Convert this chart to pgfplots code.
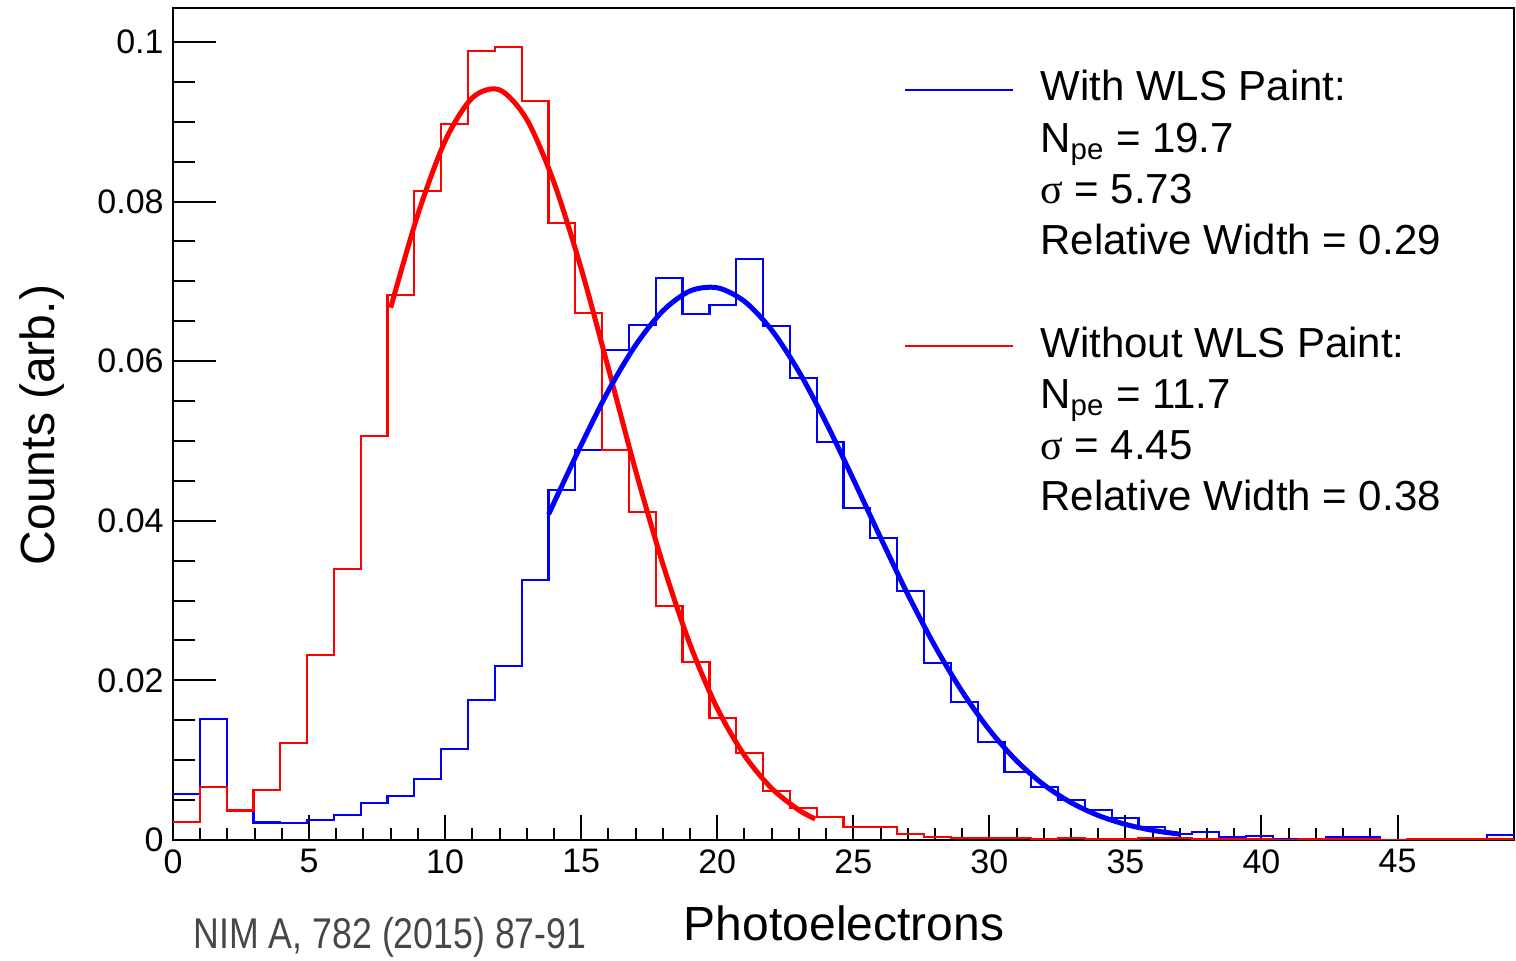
\documentclass[border=0pt]{standalone}
\usepackage{fontspec}
\setmainfont{Liberation Sans}
\newfontfamily\symfont{Liberation Serif}
\usepackage{graphicx}
\usepackage{pgfplots}
\pgfplotsset{compat=1.18}
\usepackage{pgfplotstable}

\pgfplotstableread{
x blue red
0 0.0058 0.0023
0.986 0.0152 0.0066
1.971 0.0038 0.0037
2.957 0.0022 0.0063
3.942 0.0021 0.0122
4.928 0.0025 0.0232
5.914 0.0031 0.0340
6.899 0.0046 0.0506
7.885 0.0055 0.0683
8.870 0.0076 0.0813
9.856 0.0114 0.0897
10.842 0.0175 0.0989
11.827 0.0218 0.0994
12.813 0.0326 0.0926
13.798 0.0439 0.0773
14.784 0.0489 0.0660
15.770 0.0614 0.0489
16.755 0.0645 0.0411
17.741 0.0704 0.0293
18.726 0.0659 0.0223
19.712 0.0670 0.0153
20.698 0.0728 0.0109
21.683 0.0644 0.0061
22.669 0.0579 0.0040
23.654 0.0499 0.0029
24.640 0.0416 0.0016
25.626 0.0378 0.0016
26.611 0.0312 0.0008
27.597 0.0222 0.0004
28.582 0.0173 0.0002
29.568 0.0123 0.0002
30.554 0.0085 0.0002
31.539 0.0066 0.0001
32.525 0.0050 0.0002
33.510 0.0038 0.0001
34.496 0.0028 0.0001
35.482 0.0016 0.0002
36.467 0.0008 0.0002
37.453 0.0010 0.0001
38.438 0.0003 0.0001
39.424 0.0005 0.0001
40.410 0.0001 0
41.395 0.0001 0.0001
42.381 0.0003 0.0001
43.366 0.0004 0.0001
44.352 0 0
45.338 0 0.0001
46.323 0.0001 0.0001
47.309 0.0001 0.0001
48.294 0.0006 0.0001
49.280 0.0006 0.0001
}\hist

\begin{document}
\begin{tikzpicture}
\begin{axis}[
  at={(0,0)}, anchor=south west,
  scale only axis, width=670.5pt, height=416pt,
  xmin=0, xmax=49.28, ymin=0, ymax=0.10426,
  axis line style={line width=1pt},
  xtick={0,5,...,45},
  ytick={0,0.02,0.04,0.06,0.08,0.1},
  yticklabels={0,0.02,0.04,0.06,0.08,0.1},
  minor x tick num=4, minor y tick num=3,
  tick align=inside, xtick pos=left, ytick pos=left,
  tick style={line width=1pt, black},
  major x tick style={/pgfplots/major tick length=12.5pt},
  minor x tick style={/pgfplots/minor tick length=6pt},
  major y tick style={/pgfplots/major tick length=21.5pt},
  minor y tick style={/pgfplots/minor tick length=11pt},
  /pgf/number format/assume math mode=true,
  ticklabel style={font=\fontsize{17}{19}\selectfont},
  yticklabel style={inner sep=0pt, xshift=-4.5pt},
  xticklabel style={inner sep=0pt, yshift=-4.5pt},
  clip=true,
]
\addplot[const plot, blue, line width=1.1pt] table[x=x, y=blue] {\hist};
\addplot[const plot, red, line width=1.1pt] table[x=x, y=red] {\hist};
\addplot[red, line width=2.5pt, smooth] coordinates {
(8,0.0667) (9,0.0784) (10,0.0876) (11,0.0930) (12,0.0940) (13,0.0903)
(14,0.0824) (15,0.0716) (16,0.0591) (17,0.0463) (18,0.0346) (19,0.0245)
(20,0.0165) (21,0.0106) (22,0.00647) (23,0.00375) (23.6,0.00264)};
\addplot[blue, line width=2.5pt, smooth] coordinates {
(13.8,0.0408) (15,0.0495) (16,0.0563) (17,0.0620) (18,0.0663) (19,0.0688)
(20,0.0692) (21,0.0675) (22,0.0639) (23,0.0587) (24,0.0523) (25,0.0452)
(26,0.0379) (27,0.0308) (28,0.0243) (29,0.0186) (30,0.0138) (31,0.00992)
(32,0.00692) (33,0.00469) (34,0.00308) (35,0.00196) (36,0.00121) (37,0.00073)};
\end{axis}
% legend
\draw[blue, line width=1pt] (366pt,375pt) -- (420pt,375pt);
\draw[red, line width=1pt] (366pt,247pt) -- (420pt,247pt);
\begin{scope}[every node/.style={anchor=base west, inner sep=0pt, font=\fontsize{21}{25}\selectfont}]
\node at (433.5pt,369.5pt) {With WLS Paint:};
\node at (433.5pt,343.5pt) {N\textsubscript{pe} = 19.7};
\node at (433.5pt,318pt) {{\symfont σ} = 5.73};
\node at (433.5pt,292.5pt) {Relative Width = 0.29};
\node at (433.5pt,241pt) {Without WLS Paint:};
\node at (433.5pt,215.5pt) {N\textsubscript{pe} = 11.7};
\node at (433.5pt,190pt) {{\symfont σ} = 4.45};
\node at (433.5pt,164.5pt) {Relative Width = 0.38};
\end{scope}
% axis labels
\node[anchor=base, inner sep=0pt, font=\fontsize{24}{28}\selectfont] at (335.5pt,-50.5pt) {Photoelectrons};
\node[anchor=base, rotate=90, inner sep=0pt, font=\fontsize{24}{28}\selectfont] at (-59pt,207.5pt) {Counts (arb.)};
\node[anchor=base, inner sep=0pt, text=black!72, font=\fontsize{21.5}{26}\selectfont] at (108.5pt,-54.5pt) {\scalebox{0.83}[1]{NIM A, 782 (2015) 87-91}};
\pgfresetboundingbox
\path[use as bounding box] (-86.5pt,-60.5pt) rectangle (671.5pt,420pt);
\end{tikzpicture}
\end{document}
